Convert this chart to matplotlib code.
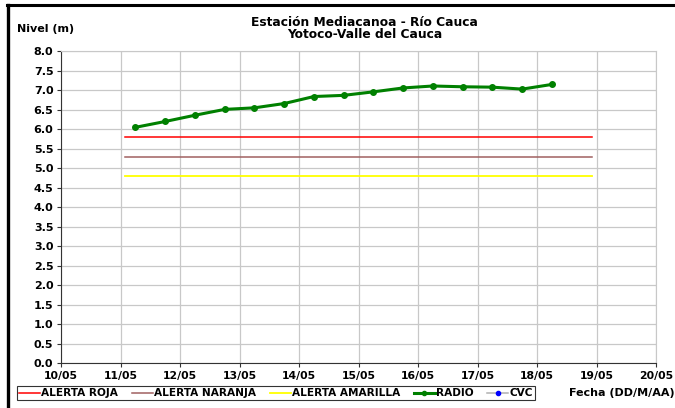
import matplotlib
matplotlib.use("Agg")
import matplotlib.pyplot as plt
import matplotlib.dates as mdates
import pandas as pd
from matplotlib.lines import Line2D

plt.rcParams['font.family'] = ['DejaVu Sans']
plt.rcParams['font.weight'] = 'bold'

# lecturas RADIO (fecha-hora, nivel en m)
fechas_radio = ["2011-05-11 06:00", "2011-05-11 18:00", "2011-05-12 06:00", "2011-05-12 18:00",
                "2011-05-13 06:00", "2011-05-13 18:00", "2011-05-14 06:00", "2011-05-14 18:00",
                "2011-05-15 06:00", "2011-05-15 18:00", "2011-05-16 06:00", "2011-05-16 18:00",
                "2011-05-17 06:00", "2011-05-17 18:00", "2011-05-18 06:00"]
nivel_radio = [6.05, 6.20, 6.36, 6.51, 6.55, 6.66, 6.84, 6.87, 6.96, 7.06, 7.11, 7.09, 7.08, 7.03, 7.15]

# umbrales de alerta
fechas_alerta = ["2011-05-11 02:00", "2011-05-18 22:00"]
alerta_roja = 5.8
alerta_naranja = 5.3
alerta_amarilla = 4.8

x_ini, x_fin = "2011-05-10", "2011-05-20"

fig = plt.figure(figsize=(6.75, 4.08), dpi=100)
ax = fig.add_axes([0.0904, 0.1096, 0.8815, 0.7647])

t_radio = pd.to_datetime(fechas_radio)
t_alerta = pd.to_datetime(fechas_alerta)

ax.plot(t_alerta, [alerta_roja] * 2, color='#ff0000', lw=1.1)
ax.plot(t_alerta, [alerta_naranja] * 2, color='#a06060', lw=1.1)
ax.plot(t_alerta, [alerta_amarilla] * 2, color='#ffff00', lw=1.3)
ax.plot(t_radio, nivel_radio, color='#008000', lw=2.2, marker='o', ms=4)

ax.set_xlim(pd.Timestamp(x_ini), pd.Timestamp(x_fin))
ax.set_ylim(0, 8)
ax.set_yticks([i * 0.5 for i in range(17)])
ax.yaxis.set_major_formatter(plt.FormatStrFormatter('%.1f'))
ax.xaxis.set_major_locator(mdates.DayLocator())
ax.xaxis.set_major_formatter(mdates.DateFormatter('%d/%m'))

ax.grid(True, color='#c8c8c8', lw=0.9)
ax.set_axisbelow(True)
for s in ['top', 'right']:
    ax.spines[s].set_color('#c8c8c8')
for s in ['left', 'bottom']:
    ax.spines[s].set_color('#333333')
    ax.spines[s].set_linewidth(0.8)
ax.tick_params(axis='both', length=3, width=0.8, color='#333333', pad=2.5)
ax.tick_params(axis='y', labelsize=8)
ax.tick_params(axis='x', labelsize=7.8)

fig.text(0.54, 0.93, "Estación Mediacanoa - Río Cauca\nYotoco-Valle del Cauca",
         ha='center', va='center', fontsize=8.8, fontweight='bold', linespacing=0.95)
fig.text(0.025, 0.928, "Nivel (m)", ha='left', va='center', fontsize=8, fontweight='bold')
fig.text(1.0, 0.036, "Fecha (DD/M/AA)", ha='right', va='center', fontsize=8, fontweight='bold')

# texto recortado en el borde superior
fig.text(0.243, 1.012, "(", ha='center', va='center', fontsize=9, fontweight='bold')
fig.text(0.393, 1.012, ")", ha='center', va='center', fontsize=9, fontweight='bold')

# marco exterior
fig.add_artist(Line2D([0.011, 1.0], [0.987, 0.987], color='black', lw=2.2))
fig.add_artist(Line2D([0.012, 0.012], [0.0, 0.987], color='black', lw=2.4))

handles = [Line2D([0], [0], color='#ff0000', lw=1.1),
           Line2D([0], [0], color='#a06060', lw=1.1),
           Line2D([0], [0], color='#ffff00', lw=1.3),
           Line2D([0], [0], color='#008000', lw=2.2, marker='o', ms=3),
           Line2D([0], [0], color='#b0b0b0', lw=1.1, marker='o', ms=3,
                  markerfacecolor='#0000ff', markeredgecolor='#0000ff')]
labels = ["ALERTA ROJA", "ALERTA NARANJA", "ALERTA AMARILLA", "RADIO", "CVC"]
leg = fig.legend(handles, labels, ncol=5, loc='center left', bbox_to_anchor=(0.025, 0.036),
                 fontsize=7.6, frameon=True, fancybox=False, edgecolor='black',
                 handlelength=2.0, handletextpad=0.1, columnspacing=1.3,
                 borderpad=0.2, borderaxespad=0)
leg.get_frame().set_linewidth(0.8)

fig.savefig("out.png", dpi=100)
